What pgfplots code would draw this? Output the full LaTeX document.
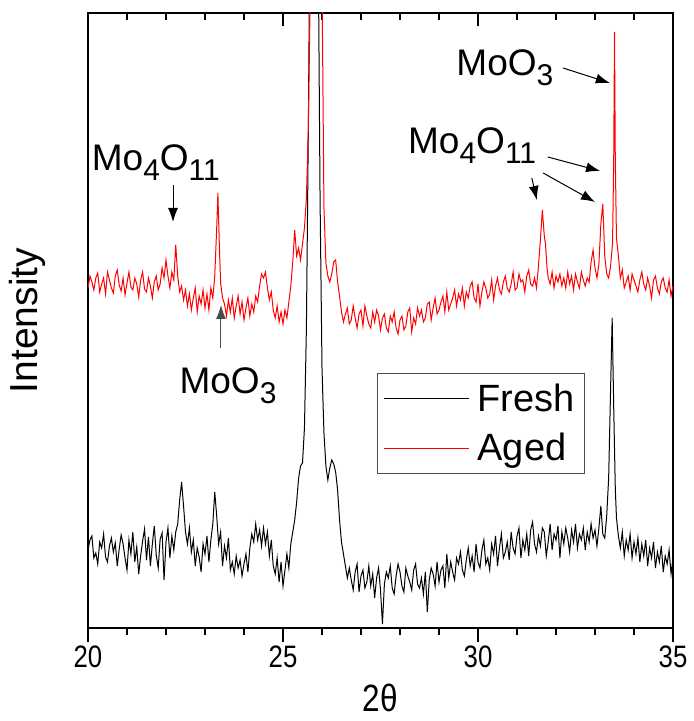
\documentclass[border=0pt]{standalone}
\usepackage{fontspec}
\setmainfont{Liberation Sans}
\newfontfamily\narrowfont[FakeStretch=0.83]{Liberation Sans}
\usepackage{pgfplots}
\pgfplotsset{compat=1.18}
\usetikzlibrary{arrows.meta}

% lowered, smaller subscripts as in the original annotations
\newcommand{\sub}[1]{\raisebox{-5pt}{\fontsize{15}{15}\selectfont #1}}
\newcommand{\annfont}{\fontsize{18.5}{19}\selectfont}

\begin{document}
\begin{tikzpicture}
\path[use as bounding box] (-44pt,-46.5pt) rectangle (302.5pt,314pt);

% top axis: inward ticks only
\begin{axis}[
    at={(0pt,0pt)}, anchor=south west,
    scale only axis, width=292.5pt, height=307.5pt,
    xmin=20, xmax=35, ymin=0, ymax=615,
    axis x line*=top, axis y line=none,
    axis line style={-, line width=1pt},
    xtick={20,25,30,35}, minor x tick num=4, xticklabels={},
    tick align=inside,
    major tick length=6.5pt, minor tick length=3.5pt,
    tick style={black, line width=0.9pt},
]
\end{axis}

\begin{axis}[
    at={(0pt,0pt)}, anchor=south west,
    scale only axis, width=292.5pt, height=307.5pt,
    xmin=20, xmax=35, ymin=0, ymax=615,
    axis line style={line width=1pt},
    xtick={20,25,30,35}, minor x tick num=4,
    xtick pos=bottom, tick align=outside,
    major tick length=7pt, minor tick length=3.5pt,
    tick style={black, line width=0.9pt},
    ytick=\empty,
    /pgf/number format/assume math mode=true,
    ticklabel style={font=\narrowfont\fontsize{15.5}{16}\selectfont},
    xticklabel style={yshift=1.5pt},
    xlabel={2θ},
    xlabel style={font=\narrowfont\fontsize{19}{20}\selectfont,
        at={(axis description cs:0.5,-0.113)}, anchor=center},
    ylabel={Intensity},
    ylabel style={font=\fontsize{19.5}{20}\selectfont,
        at={(axis description cs:-0.104,0.5)}, anchor=center},
    legend style={at={(axis cs:27.41,255)}, anchor=north west,
        draw=black!70, line width=0.6pt,
        font=\fontsize{19}{20}\selectfont,
        inner xsep=3pt, inner ysep=3pt, row sep=5.5pt,
        /tikz/every odd column/.append style={column sep=2pt}},
    legend cell align=left,
    legend image code/.code={\draw[#1] (0pt,0pt) -- (42.5pt,0pt);},
]

\addplot[black, line width=0.5pt] coordinates {
(20.00,78) (20.05,88) (20.10,92) (20.15,70) (20.20,75) (20.25,64) (20.30,86) (20.35,80)
(20.40,94) (20.45,71) (20.50,66) (20.55,82) (20.60,90) (20.65,76) (20.70,85) (20.75,62)
(20.80,79) (20.85,93) (20.90,84) (20.95,70) (21.00,58) (21.05,88) (21.10,74) (21.15,96)
(21.20,66) (21.25,81) (21.30,54) (21.35,72) (21.40,87) (21.45,99) (21.50,68) (21.55,91)
(21.60,62) (21.65,84) (21.70,102) (21.75,73) (21.80,60) (21.85,89) (21.90,95) (21.95,48)
(22.00,86) (22.05,100) (22.10,70) (22.15,92) (22.20,78) (22.25,96) (22.30,104) (22.35,128)
(22.40,146) (22.45,122) (22.50,96) (22.55,84) (22.60,100) (22.65,76) (22.70,88) (22.75,62)
(22.80,80) (22.85,71) (22.90,56) (22.95,84) (23.00,74) (23.05,92) (23.10,66) (23.15,88)
(23.20,104) (23.25,136) (23.30,112) (23.35,84) (23.40,96) (23.45,62) (23.50,82) (23.55,70)
(23.60,90) (23.65,58) (23.70,66) (23.75,54) (23.80,72) (23.85,60) (23.90,68) (23.95,52)
(24.00,64) (24.05,74) (24.10,56) (24.15,80) (24.20,94) (24.25,86) (24.30,104) (24.35,88)
(24.40,98) (24.45,82) (24.50,100) (24.55,84) (24.60,96) (24.65,72) (24.70,88) (24.75,62)
(24.80,54) (24.85,70) (24.90,46) (24.95,66) (25.00,42) (25.05,58) (25.10,74) (25.15,60)
(25.20,84) (25.25,96) (25.30,108) (25.35,126) (25.40,150) (25.45,162) (25.50,165) (25.55,200)
(25.60,300) (25.65,500) (25.70,760) (25.75,950) (25.80,1000) (25.85,950) (25.90,700) (25.95,430)
(26.00,260) (26.05,195) (26.10,162) (26.15,148) (26.20,160) (26.25,168) (26.30,164) (26.35,156)
(26.40,138) (26.45,108) (26.50,86) (26.55,74) (26.60,62) (26.65,50) (26.70,60) (26.75,48)
(26.80,38) (26.85,56) (26.90,64) (26.95,36) (27.00,52) (27.05,58) (27.10,40) (27.15,46)
(27.20,62) (27.25,42) (27.30,54) (27.35,30) (27.40,50) (27.45,60) (27.50,38) (27.55,4)
(27.60,44) (27.65,56) (27.70,50) (27.75,62) (27.80,40) (27.85,34) (27.90,52) (27.95,64)
(28.00,56) (28.05,42) (28.10,36) (28.15,60) (28.20,52) (28.25,46) (28.30,38) (28.35,58)
(28.40,64) (28.45,44) (28.50,40) (28.55,50) (28.60,34) (28.65,56) (28.70,16) (28.75,48)
(28.80,60) (28.85,54) (28.90,42) (28.95,66) (29.00,46) (29.05,58) (29.10,62) (29.15,40)
(29.20,74) (29.25,50) (29.30,66) (29.35,56) (29.40,48) (29.45,70) (29.50,64) (29.55,76)
(29.60,58) (29.65,52) (29.70,68) (29.75,80) (29.80,62) (29.85,72) (29.90,56) (29.95,84)
(30.00,66) (30.05,60) (30.10,78) (30.15,88) (30.20,64) (30.25,70) (30.30,58) (30.35,84)
(30.40,74) (30.45,92) (30.50,62) (30.55,80) (30.60,94) (30.65,70) (30.70,76) (30.75,86)
(30.80,68) (30.85,96) (30.90,80) (30.95,74) (31.00,92) (31.05,100) (31.10,70) (31.15,88)
(31.20,78) (31.25,94) (31.30,72) (31.35,98) (31.40,106) (31.45,84) (31.50,76) (31.55,92)
(31.60,82) (31.65,100) (31.70,96) (31.75,72) (31.80,86) (31.85,104) (31.90,78) (31.95,94)
(32.00,88) (32.05,102) (32.10,70) (32.15,96) (32.20,84) (32.25,100) (32.30,90) (32.35,76)
(32.40,98) (32.45,86) (32.50,104) (32.55,80) (32.60,94) (32.65,88) (32.70,100) (32.75,78)
(32.80,96) (32.85,86) (32.90,104) (32.95,90) (33.00,98) (33.05,82) (33.10,100) (33.15,122)
(33.20,94) (33.25,90) (33.30,112) (33.35,150) (33.40,240) (33.44,310) (33.48,220) (33.52,140)
(33.55,110) (33.60,92) (33.65,80) (33.70,96) (33.75,72) (33.80,88) (33.85,78) (33.90,94)
(33.95,70) (34.00,86) (34.05,74) (34.10,90) (34.15,66) (34.20,84) (34.25,72) (34.30,88)
(34.35,62) (34.40,80) (34.45,70) (34.50,86) (34.55,60) (34.60,76) (34.65,66) (34.70,82)
(34.75,56) (34.80,72) (34.85,64) (34.90,78) (34.95,54) (35.00,70)
};
\addlegendentry{Fresh}

\addplot[red, line width=0.5pt] coordinates {
(20.00,340) (20.05,352) (20.10,346) (20.15,338) (20.20,350) (20.25,355) (20.30,336) (20.35,344)
(20.40,350) (20.45,334) (20.50,356) (20.55,348) (20.60,340) (20.65,335) (20.70,352) (20.75,358)
(20.80,343) (20.85,337) (20.90,350) (20.95,333) (21.00,345) (21.05,356) (21.10,341) (21.15,338)
(21.20,350) (21.25,344) (21.30,331) (21.35,348) (21.40,356) (21.45,339) (21.50,336) (21.55,350)
(21.60,342) (21.65,330) (21.70,346) (21.75,352) (21.80,338) (21.85,344) (21.90,360) (21.95,350)
(22.00,368) (22.05,352) (22.10,340) (22.15,356) (22.20,348) (22.25,383) (22.30,352) (22.35,336)
(22.40,342) (22.45,328) (22.50,338) (22.55,322) (22.60,334) (22.65,318) (22.70,330) (22.75,340)
(22.80,316) (22.85,332) (22.90,324) (22.95,338) (23.00,320) (23.05,334) (23.10,318) (23.15,340)
(23.20,330) (23.25,352) (23.30,400) (23.33,435) (23.37,380) (23.40,345) (23.45,330) (23.50,324)
(23.55,312) (23.60,328) (23.65,316) (23.70,330) (23.75,310) (23.80,322) (23.85,332) (23.90,314)
(23.95,326) (24.00,308) (24.05,320) (24.10,330) (24.15,312) (24.20,324) (24.25,316) (24.30,332)
(24.35,326) (24.40,342) (24.45,354) (24.50,350) (24.55,356) (24.60,340) (24.65,328) (24.70,336)
(24.75,318) (24.80,310) (24.85,322) (24.90,306) (24.95,316) (25.00,304) (25.05,318) (25.10,310)
(25.15,326) (25.20,342) (25.25,366) (25.30,398) (25.35,372) (25.40,380) (25.45,368) (25.50,384)
(25.55,400) (25.60,430) (25.65,500) (25.70,640) (25.75,900) (25.80,1100) (25.85,1200) (25.90,1100)
(25.95,900) (26.00,650) (26.05,420) (26.10,365) (26.15,352) (26.20,346) (26.25,354) (26.30,366)
(26.35,368) (26.40,346) (26.45,332) (26.50,316) (26.55,306) (26.60,314) (26.65,320) (26.70,304)
(26.75,308) (26.80,322) (26.85,310) (26.90,300) (26.95,314) (27.00,318) (27.05,302) (27.10,322)
(27.15,312) (27.20,304) (27.25,300) (27.30,316) (27.35,306) (27.40,318) (27.45,312) (27.50,298)
(27.55,310) (27.60,314) (27.65,300) (27.70,296) (27.75,312) (27.80,306) (27.85,316) (27.90,300)
(27.95,294) (28.00,308) (28.05,312) (28.10,298) (28.15,302) (28.20,316) (28.25,320) (28.30,296)
(28.35,310) (28.40,304) (28.45,320) (28.50,312) (28.55,318) (28.60,306) (28.65,310) (28.70,324)
(28.75,326) (28.80,308) (28.85,320) (28.90,330) (28.95,314) (29.00,318) (29.05,326) (29.10,332)
(29.15,316) (29.20,336) (29.25,318) (29.30,324) (29.35,330) (29.40,338) (29.45,322) (29.50,334)
(29.55,328) (29.60,340) (29.65,322) (29.70,336) (29.75,330) (29.80,342) (29.85,346) (29.90,330)
(29.95,326) (30.00,344) (30.05,322) (30.10,336) (30.15,346) (30.20,340) (30.25,330) (30.30,334)
(30.35,348) (30.40,328) (30.45,342) (30.50,350) (30.55,338) (30.60,334) (30.65,346) (30.70,352)
(30.75,340) (30.80,336) (30.85,344) (30.90,356) (30.95,338) (31.00,340) (31.05,354) (31.10,346)
(31.15,348) (31.20,336) (31.25,352) (31.30,358) (31.35,344) (31.40,342) (31.45,350) (31.50,340)
(31.55,362) (31.60,388) (31.65,418) (31.70,392) (31.73,384) (31.77,360) (31.80,350) (31.85,344)
(31.90,356) (31.95,340) (32.00,352) (32.05,346) (32.10,354) (32.15,342) (32.20,350) (32.25,340)
(32.30,356) (32.35,344) (32.40,352) (32.45,338) (32.50,354) (32.55,346) (32.60,340) (32.65,356)
(32.70,348) (32.75,342) (32.80,350) (32.85,346) (32.90,366) (32.95,378) (33.00,360) (33.05,350)
(33.10,364) (33.15,404) (33.20,424) (33.25,372) (33.30,354) (33.35,350) (33.40,362) (33.45,385)
(33.48,470) (33.50,596) (33.52,470) (33.55,390) (33.60,372) (33.65,350) (33.70,358) (33.75,340)
(33.80,346) (33.85,352) (33.90,338) (33.95,354) (34.00,348) (34.05,342) (34.10,336) (34.15,348)
(34.20,356) (34.25,344) (34.30,338) (34.35,350) (34.40,342) (34.45,330) (34.50,348) (34.55,352)
(34.60,340) (34.65,334) (34.70,346) (34.75,350) (34.80,340) (34.85,336) (34.90,348) (34.95,332)
(35.00,342)
};
\addlegendentry{Aged}

% phase labels and arrows
\node[font=\annfont] at (axis cs:21.74,465) {Mo\sub{4}O\sub{11}};
\draw[-{Latex[length=7pt,width=5pt]}, line width=0.5pt] (axis cs:22.18,443) -- (axis cs:22.18,406);

\node[font=\annfont] at (axis cs:23.59,242) {MoO\sub{3}};
\draw[-{Latex[length=7pt,width=5pt]}, line width=0.5pt, black!70] (axis cs:23.41,280) -- (axis cs:23.41,323);

\node[font=\annfont] at (axis cs:30.69,560) {MoO\sub{3}};
\draw[-{Latex[length=7pt,width=5pt]}, line width=0.5pt] (axis cs:32.18,560) -- (axis cs:33.38,545);

\node[font=\annfont] at (axis cs:29.85,482) {Mo\sub{4}O\sub{11}};
\draw[-{Latex[length=7pt,width=5pt]}, line width=0.5pt] (axis cs:31.79,471) -- (axis cs:33.13,457);
\draw[-{Latex[length=7pt,width=5pt]}, line width=0.5pt] (axis cs:31.67,455) -- (axis cs:33.00,426);
\draw[-{Latex[length=7pt,width=5pt]}, line width=0.5pt] (axis cs:31.38,450) -- (axis cs:31.51,428);
\end{axis}
\end{tikzpicture}
\end{document}
